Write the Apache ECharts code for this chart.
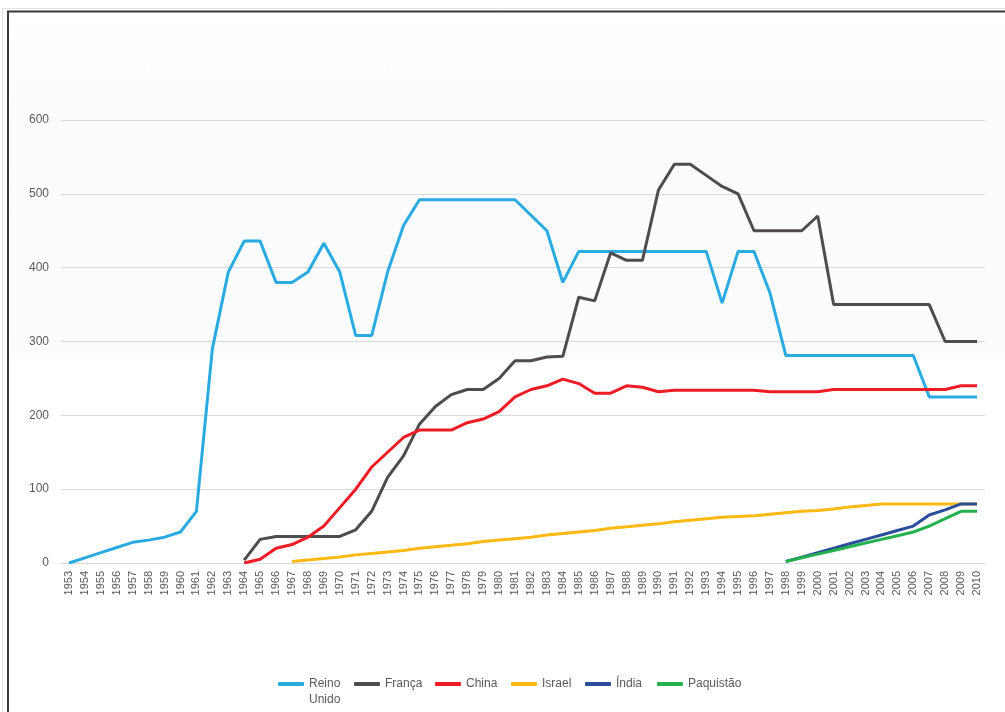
<!DOCTYPE html>
<html>
<head>
<meta charset="utf-8">
<title>Ogivas nucleares</title>
<script src="https://cdn.jsdelivr.net/npm/echarts@6/dist/echarts.min.js"></script>
<style>
    html, body { margin: 0; padding: 0; background: #fff; }
    #chart { width: 1005px; height: 712px; }
</style>
</head>
<body>
<div id="chart"></div>
<script>
// anos do eixo x
const firstYear = 1953;
const lastYear = 2010;
let years = [];
for (let y = firstYear; y <= lastYear; y++) {
    years.push(String(y));
}

// cada série começa num ano e segue ano a ano
const ukStart = 1953;
const ukValues = [0, 7, 14, 21, 28, 31, 35, 42, 70, 290, 394, 436, 436, 380, 380, 394, 433, 394, 308, 308,
    394, 457, 492, 492, 492, 492, 492, 492, 492, 471, 450, 380, 422, 422, 422, 422, 422, 422, 422, 422,
    422, 352, 422, 422, 366, 281, 281, 281, 281, 281, 281, 281, 281, 281, 225, 225, 225, 225];

const franceStart = 1964;
const franceValues = [4, 32, 36, 36, 36, 36, 36, 45, 70, 116, 145, 188, 212, 228, 235, 235, 250, 274, 274, 279,
    280, 360, 355, 420, 410, 410, 505, 540, 540, 525, 510, 500, 450, 450, 450, 450, 470, 350, 350, 350,
    350, 350, 350, 350, 300, 300, 300];

const chinaStart = 1964;
const chinaValues = [0, 5, 20, 25, 35, 50, 75, 100, 130, 150, 170, 180, 180, 180, 190, 195, 205, 225, 235, 240,
    249, 243, 230, 230, 240, 238, 232, 234, 234, 234, 234, 234, 234, 232, 232, 232, 232, 235, 235, 235,
    235, 235, 235, 235, 235, 240, 240];

const israelStart = 1967;
const israelValues = [2, 4, 6, 8, 11, 13, 15, 17, 20, 22, 24, 26, 29, 31, 33, 35, 38, 40, 42, 44,
    47, 49, 51, 53, 56, 58, 60, 62, 63, 64, 66, 68, 70, 71, 73, 76, 78, 80, 80, 80,
    80, 80, 80, 80];

const indiaStart = 1998;
const indiaValues = [2, 8, 14, 20, 26, 32, 38, 44, 50, 65, 72, 80, 80];

const pakistanStart = 1998;
const pakistanValues = [2, 7, 12, 17, 22, 27, 32, 37, 42, 50, 60, 70, 70];

// eixo y
const yMin = 0;
const yMax = 600;
const yStep = 100;

const toPairs = function(start, values) {
    let arr = [];
    for (let i = 0; i < values.length; i++) {
        arr.push([String(start + i), values[i]]);
    }
    return arr;
};

const seriesList = [
    { name: 'Reino Unido', color: '#29abe2', start: ukStart, values: ukValues },
    { name: 'França', color: '#4d4d4d', start: franceStart, values: franceValues },
    { name: 'China', color: '#ed1c24', start: chinaStart, values: chinaValues },
    { name: 'Israel', color: '#fdb913', start: israelStart, values: israelValues },
    { name: 'Índia', color: '#2a4d9b', start: indiaStart, values: indiaValues },
    { name: 'Paquistão', color: '#22b14c', start: pakistanStart, values: pakistanValues }
];

// posição horizontal de cada item da legenda
const legendLeft = [278, 354, 435, 511, 585, 657];

let myChart = echarts.init(document.getElementById('chart'), null, { renderer: 'canvas' });

const fontFamily = '"Liberation Sans", Arial, sans-serif';

let series = [];
let legends = [];
seriesList.forEach(function(s, i) {
    series.push({
        name: s.name,
        type: 'line',
        symbol: 'none',
        connectNulls: false,
        lineStyle: { width: 3, color: s.color },
        itemStyle: { color: s.color },
        data: toPairs(s.start, s.values)
    });
    legends.push({
        data: [s.name],
        left: legendLeft[i],
        top: i === 0 ? 660 : 676,
        padding: 0,
        icon: 'roundRect',
        itemWidth: 26,
        itemHeight: 4,
        selectedMode: false,
        formatter: function(name) {
            // "Reino Unido" quebra em duas linhas
            return name === 'Reino Unido' ? '\nReino\nUnido' : name;
        },
        textStyle: {
            color: '#595959',
            fontSize: 12,
            lineHeight: 16,
            fontFamily: fontFamily
        }
    });
});

let option = {
    animation: false,
    backgroundColor: '#ffffff',
    graphic: [
        // fundo levemente azulado
        {
            type: 'rect',
            silent: true,
            z: -10,
            shape: { x: 9, y: 13, width: 996, height: 345 },
            style: {
                fill: {
                    type: 'linear', x: 0, y: 0, x2: 0, y2: 1,
                    colorStops: [
                        { offset: 0, color: '#ffffff' },
                        { offset: 0.35, color: '#f9fbfd' },
                        { offset: 1, color: '#fafcfe' }
                    ]
                }
            }
        },
        {
            type: 'rect',
            silent: true,
            z: -9,
            shape: { x: 146, y: 52, width: 240, height: 20 },
            style: { fill: '#fefeff' }
        },
        // moldura
        {
            type: 'line', silent: true,
            shape: { x1: 2, y1: 8.5, x2: 1005, y2: 8.5 },
            style: { stroke: '#e3e3e3', lineWidth: 1 }
        },
        {
            type: 'line', silent: true,
            shape: { x1: 2.5, y1: 8, x2: 2.5, y2: 712 },
            style: { stroke: '#e3e3e3', lineWidth: 1 }
        },
        {
            type: 'line', silent: true,
            shape: { x1: 7, y1: 11.5, x2: 1005, y2: 11.5 },
            style: { stroke: '#3a3a3a', lineWidth: 2 }
        },
        {
            type: 'line', silent: true,
            shape: { x1: 8, y1: 11, x2: 8, y2: 712 },
            style: { stroke: '#3a3a3a', lineWidth: 2 }
        }
    ],
    grid: {
        left: 61,
        right: 20,
        top: 120,
        bottom: 149,
        containLabel: false
    },
    legend: legends,
    xAxis: {
        type: 'category',
        boundaryGap: true,
        data: years,
        axisLine: {
            lineStyle: { color: '#d9d9d9', width: 1 }
        },
        axisTick: { show: false },
        axisLabel: {
            interval: 0,
            rotate: 90,
            margin: 8,
            color: '#595959',
            fontSize: 11,
            fontFamily: fontFamily
        },
        splitLine: { show: false }
    },
    yAxis: {
        type: 'value',
        min: yMin,
        max: yMax,
        interval: yStep,
        axisLine: { show: false },
        axisTick: { show: false },
        axisLabel: {
            margin: 12,
            color: '#595959',
            fontSize: 12,
            fontFamily: fontFamily
        },
        splitLine: {
            show: true,
            lineStyle: { color: '#d9d9d9', width: 1, type: 'solid' }
        }
    },
    series: series
};

myChart.setOption(option);

window.addEventListener('resize', function() {
    myChart.resize();
});
</script>
</body>
</html>
